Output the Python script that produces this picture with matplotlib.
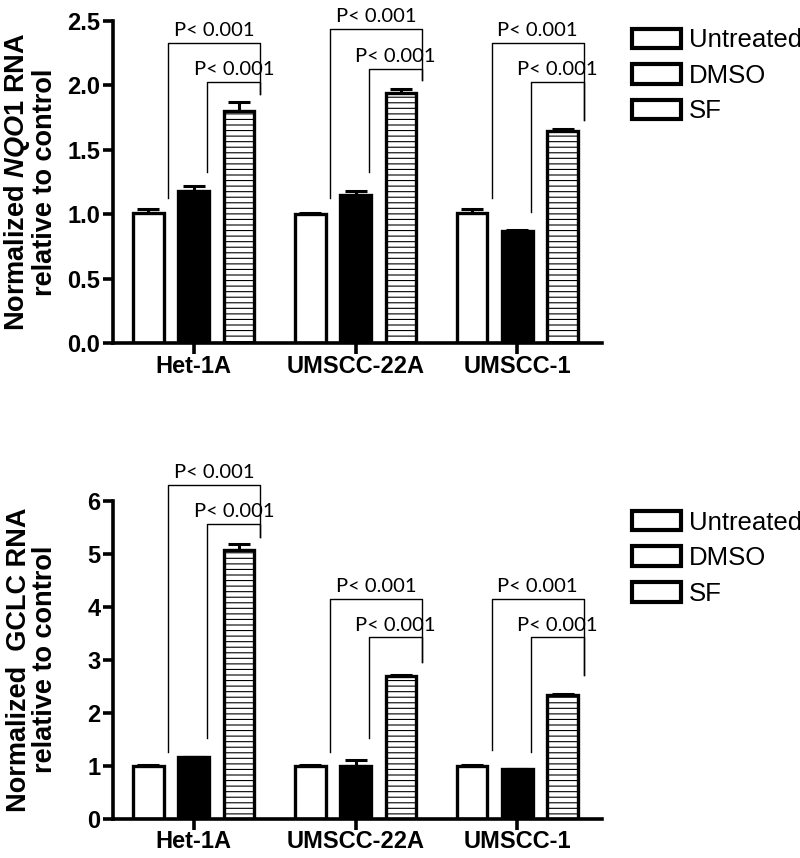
import numpy as np
import matplotlib
matplotlib.use("Agg")
from matplotlib import pyplot as plt
from matplotlib.patches import Patch

plt.rcParams['font.family'] = ['Liberation Sans', 'DejaVu Sans']
plt.rcParams['mathtext.fontset'] = 'custom'
plt.rcParams['mathtext.it'] = 'Liberation Sans:italic:bold'
plt.rcParams['mathtext.rm'] = 'Liberation Sans:bold'
plt.rcParams['hatch.linewidth'] = 0.8

# data
groups = ['Het-1A', 'UMSCC-22A', 'UMSCC-1']
treatments = ['Untreated', 'DMSO', 'SF']

nqo1_mean = {'Untreated': [1.01, 1.00, 1.01],
             'DMSO':      [1.18, 1.15, 0.87],
             'SF':        [1.80, 1.94, 1.65]}
nqo1_err = {'Untreated': [0.03, 0.01, 0.03],
            'DMSO':      [0.04, 0.03, 0.01],
            'SF':        [0.07, 0.03, 0.01]}

gclc_mean = {'Untreated': [1.00, 1.00, 1.00],
             'DMSO':      [1.16, 1.00, 0.93],
             'SF':        [5.08, 2.70, 2.34]}
gclc_err = {'Untreated': [0.01, 0.01, 0.01],
            'DMSO':      [0.01, 0.10, 0.01],
            'SF':        [0.10, 0.01, 0.02]}

# brackets: (outer top, inner top, outer left leg end, inner left leg end, right leg end)
nqo1_brackets = [(2.33, 2.03, 1.13, 1.33, 1.93),
                 (2.44, 2.13, 1.13, 1.33, 2.04),
                 (2.33, 2.03, 1.13, 1.02, 1.73)]
gclc_brackets = [(6.31, 5.57, 1.26, 1.52, 5.33),
                 (4.15, 3.43, 1.26, 1.52, 2.96),
                 (4.15, 3.43, 1.30, 1.26, 2.72)]
p_label = 'P< 0.001'

styles = {'Untreated': dict(facecolor='white', hatch=None),
          'DMSO': dict(facecolor='black', hatch=None),
          'SF': dict(facecolor='white', hatch='---')}

fig = plt.figure(figsize=(8.0, 8.58), dpi=100)
ax1 = fig.add_axes([0.141, 0.600, 0.611, 0.3755])
ax2 = fig.add_axes([0.141, 0.046, 0.611, 0.370])

x = np.arange(len(groups))
offsets = [-0.28, 0.0, 0.28]
width = 0.19


def draw(ax, means, errs, brackets, ylim, yticks, yfmt, ylabel, legend_top):
    for t, off in zip(treatments, offsets):
        st = styles[t]
        ax.bar(x + off, means[t], width, facecolor=st['facecolor'], hatch=st['hatch'],
               edgecolor='black', linewidth=2.4, zorder=2)
        ax.errorbar(x + off, means[t], yerr=[np.zeros(3), errs[t]], fmt='none',
                    ecolor='black', elinewidth=2.2, capsize=8, capthick=2.2, zorder=1)
    # significance brackets
    for i, (top_o, top_i, leg_o, leg_i, leg_r) in enumerate(brackets):
        xl_o = x[i] + offsets[0] + 0.12
        xl_i = x[i] + offsets[1] + 0.085
        xr = x[i] + offsets[2] + 0.13
        ax.plot([xl_o, xl_o, xr, xr], [leg_o, top_o, top_o, leg_r], color='black',
                lw=1.0, clip_on=False, zorder=3)
        ax.plot([xl_i, xl_i, xr, xr], [leg_i, top_i, top_i, leg_r], color='black',
                lw=1.0, clip_on=False, zorder=3)
        for xl, top in ((xl_o, top_o), (xl_i, top_i)):
            ax.annotate(p_label, ((xl + xr) / 2, top), xytext=(0, 2.5),
                        textcoords='offset points', ha='center', va='bottom',
                        fontsize=14.5, family=['Lato', 'DejaVu Sans'],
                        annotation_clip=False)

    ax.set_xlim(-0.5, 2.52)
    ax.set_ylim(*ylim)
    ax.set_yticks(yticks)
    ax.set_yticklabels([yfmt.format(v) for v in yticks])
    ax.set_xticks(x)
    ax.set_xticklabels(groups)
    for s in ('top', 'right'):
        ax.spines[s].set_visible(False)
    for s in ('left', 'bottom'):
        ax.spines[s].set_linewidth(2.6)
    ax.tick_params(axis='y', length=7, width=2.6, labelsize=17, pad=2)
    ax.tick_params(axis='x', length=8, width=2.6, labelsize=17, pad=0.5)
    for lab in ax.get_xticklabels() + ax.get_yticklabels():
        lab.set_fontweight('bold')
    ax.set_ylabel(ylabel, fontsize=19.5, fontweight='bold', linespacing=1.0)
    ax.yaxis.set_label_coords(-0.112, 0.5)

    handles = [Patch(facecolor='white', edgecolor='black', linewidth=3.0) for _ in treatments]
    ax.legend(handles, treatments, loc='upper left', bbox_to_anchor=(0.79, legend_top),
              bbox_transform=fig.transFigure, frameon=False, fontsize=18.5,
              handlelength=1.9, handleheight=0.8, handletextpad=0.3,
              labelspacing=0.45, borderpad=0, borderaxespad=0)


draw(ax1, nqo1_mean, nqo1_err, nqo1_brackets, (0, 2.5),
     [0.0, 0.5, 1.0, 1.5, 2.0, 2.5], '{:.1f}',
     'Normalized $\\mathit{NQO1}$ RNA\nrelative to control', 0.967)
draw(ax2, gclc_mean, gclc_err, gclc_brackets, (0, 6),
     [0, 1, 2, 3, 4, 5, 6], '{:d}',
     'Normalized  GCLC RNA\nrelative to control', 0.405)

fig.savefig('out.png', dpi=100)
